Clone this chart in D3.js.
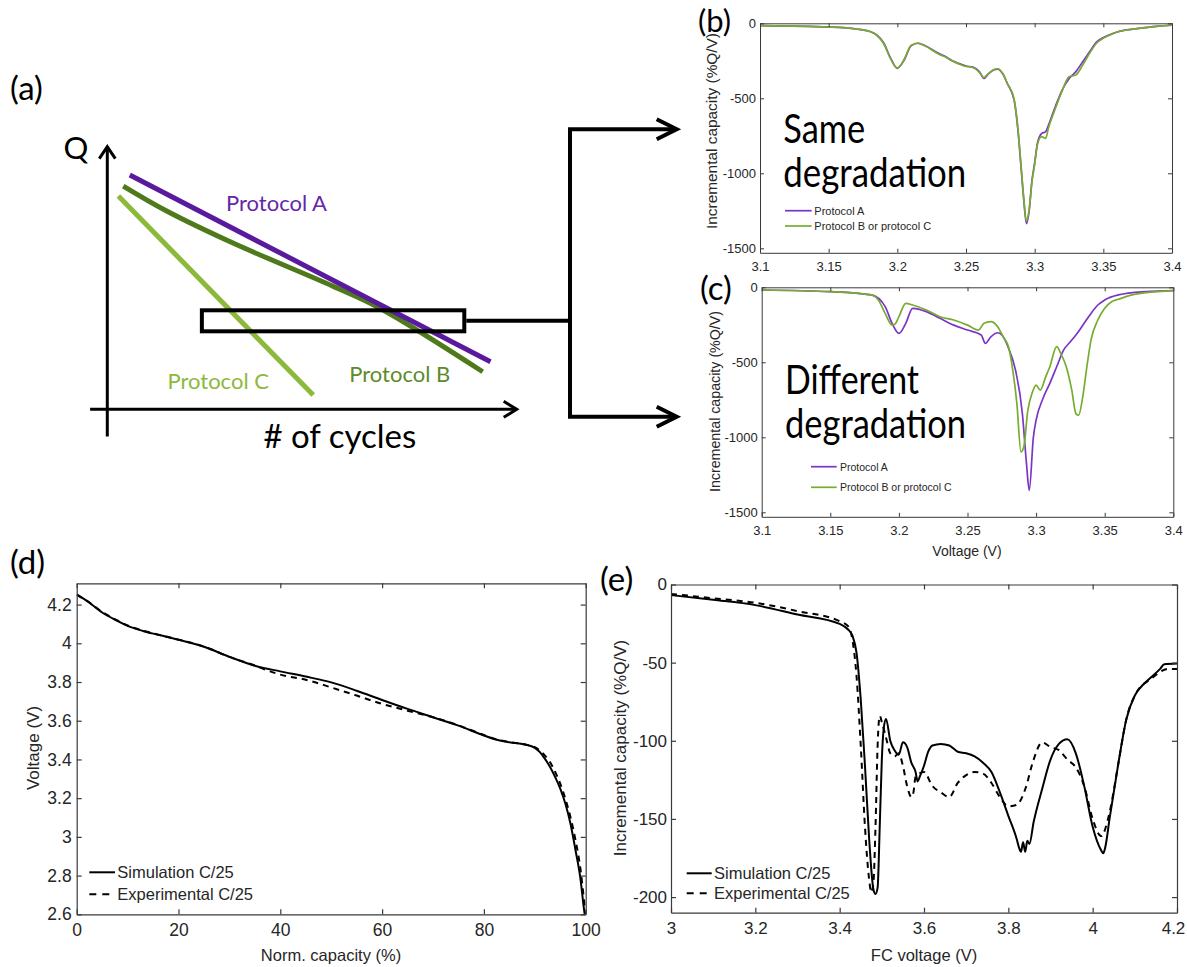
<!DOCTYPE html>
<html>
<head>
<meta charset="utf-8">
<script src="https://cdn.jsdelivr.net/npm/d3@7"></script>
<style>
  body { margin: 0; background: #fff; }
  svg { display: block; background: #fff; }
</style>
</head>
<body>
<svg id="fig" width="1187" height="967"></svg>
<script>
// ---- (a) schematic: capacity fade vs cycles (arbitrary units 0-100)
const protoACycles = [5.5, 93.6];
const protoAQ = [89.2, 18.1];
const protoBCycles = [3.9, 14.5, 30.7, 55.1, 66.6, 91.7];
const protoBQ = [85.0, 75.5, 63.3, 46.9, 38.5, 14.3];
const protoCCycles = [2.7, 50.3];
const protoCQ = [81.2, 5.4];
const windowCycles = [23.1, 87.2];
const windowQ = [29.7, 37.7];

// ---- (b) same degradation
const bVolt = [3.1, 3.15, 3.17, 3.18, 3.185, 3.19, 3.195, 3.2, 3.205, 3.21, 3.215, 3.22, 3.23, 3.235, 3.24,
  3.245, 3.25, 3.255, 3.26, 3.263, 3.266, 3.27, 3.273, 3.277, 3.28, 3.285, 3.288, 3.29, 3.292, 3.294,
  3.296, 3.298, 3.3, 3.302, 3.305, 3.308, 3.31, 3.315, 3.32, 3.325, 3.33, 3.335, 3.34, 3.345, 3.35,
  3.355, 3.36, 3.37, 3.38, 3.39, 3.4];
const bProtoA = [-15, -25, -38, -55, -78, -130, -230, -300, -245, -150, -133, -148, -200, -222, -250,
  -268, -285, -292, -325, -368, -340, -312, -305, -340, -400, -510, -730, -950, -1170, -1335,
  -1250, -1050, -930, -800, -735, -722, -680, -556, -445, -370, -322, -256, -190, -125, -95,
  -75, -58, -40, -29, -19, -13];
const bProtoBC = [-15, -25, -38, -55, -80, -135, -235, -298, -240, -148, -132, -150, -205, -225, -252,
  -272, -288, -295, -330, -362, -338, -310, -303, -338, -398, -505, -720, -940, -1160, -1320,
  -1240, -1060, -940, -810, -756, -767, -700, -570, -450, -356, -344, -278, -200, -133, -100,
  -78, -58, -40, -29, -19, -13];

// ---- (c) different degradation
const cVoltA = [3.1, 3.15, 3.18, 3.19, 3.195, 3.2, 3.205, 3.21, 3.22, 3.23, 3.24, 3.25, 3.26, 3.263, 3.267,
  3.272, 3.276, 3.28, 3.285, 3.29, 3.293, 3.295, 3.298, 3.3, 3.305, 3.31, 3.315, 3.32, 3.325, 3.33,
  3.335, 3.34, 3.345, 3.35, 3.36, 3.38, 3.4];
const cProtoA = [-18, -29, -51, -129, -240, -307, -240, -140, -162, -207, -252, -285, -318, -374, -330,
  -303, -330, -408, -552, -842, -1176, -1354, -1000, -886, -741, -641, -530, -419, -363, -307,
  -240, -174, -118, -85, -51, -29, -22];
const cVoltBC = [3.1, 3.15, 3.18, 3.185, 3.19, 3.195, 3.197, 3.2, 3.205, 3.21, 3.22, 3.23, 3.24, 3.25, 3.258,
  3.262, 3.267, 3.272, 3.276, 3.28, 3.283, 3.286, 3.289, 3.291, 3.294, 3.297, 3.3, 3.303, 3.307, 3.31,
  3.315, 3.318, 3.322, 3.326, 3.329, 3.331, 3.334, 3.337, 3.34, 3.345, 3.35, 3.355, 3.36, 3.37, 3.38, 3.4];
const cProtoBC = [-18, -29, -51, -85, -174, -252, -247, -196, -107, -118, -151, -196, -218, -252, -285,
  -240, -229, -263, -330, -400, -552, -775, -1098, -1065, -819, -708, -652, -686, -597, -530,
  -396, -441, -530, -686, -842, -853, -730, -530, -352, -218, -140, -96, -80, -51, -36, -22];

// ---- (d) voltage curve
const dCapSim = [0, 2, 5, 8, 10, 13, 16, 20, 25, 30, 35, 40, 45, 50, 55, 60, 65, 70, 75, 80,
  82, 85, 88, 90, 91, 92, 93, 94, 95, 96, 97, 98, 99, 99.6, 99.8];
const dVoltSim = [4.253, 4.219, 4.159, 4.116, 4.09, 4.064, 4.044, 4.018, 3.982, 3.93, 3.884, 3.855, 3.828, 3.798, 3.755,
  3.707, 3.661, 3.618, 3.575, 3.524, 3.506, 3.489, 3.477, 3.46, 3.438, 3.403, 3.361, 3.309, 3.249, 3.172,
  3.069, 2.931, 2.777, 2.64, 2.6];
const dCapExp = [0, 2, 5, 8, 10, 13, 16, 20, 25, 30, 35, 38, 40, 45, 50, 55, 60, 65, 68, 70,
  75, 80, 82, 85, 88, 90, 91, 92, 93, 94, 95, 96, 97, 98, 99, 99.6, 100];
const dVoltExp = [4.25, 4.22, 4.162, 4.118, 4.092, 4.066, 4.045, 4.019, 3.983, 3.93, 3.885, 3.855, 3.838, 3.812, 3.772,
  3.73, 3.687, 3.652, 3.632, 3.618, 3.576, 3.526, 3.507, 3.49, 3.478, 3.463, 3.446, 3.42, 3.386, 3.335,
  3.275, 3.197, 3.103, 2.983, 2.828, 2.691, 2.6];

// ---- (e) incremental capacity
const eVoltSim = [3, 3.1, 3.2, 3.3, 3.4, 3.42, 3.43, 3.44, 3.45, 3.46, 3.47, 3.48, 3.485, 3.49, 3.495,
  3.5, 3.505, 3.51, 3.52, 3.53, 3.54, 3.55, 3.56, 3.57, 3.58, 3.585, 3.59, 3.6, 3.61, 3.62,
  3.64, 3.66, 3.68, 3.7, 3.72, 3.74, 3.76, 3.78, 3.8, 3.82, 3.825, 3.83, 3.835, 3.84, 3.845,
  3.85, 3.86, 3.88, 3.9, 3.92, 3.94, 3.96, 3.98, 4.0, 4.02, 4.025, 4.03, 4.04, 4.06, 4.08,
  4.1, 4.12, 4.14, 4.16, 4.17, 4.2];
const eIcSim = [-6.8, -9.8, -13.2, -19.2, -25.2, -28.8, -32.6, -43.7, -73.6, -116, -163, -195, -198, -194, -155,
  -112, -91, -86, -100, -106, -109, -101, -104, -114, -120, -126, -123, -116, -107, -103,
  -102, -103, -107, -108, -110, -114, -120, -133, -148, -163, -168, -171, -165, -171, -164,
  -166, -152, -131, -112, -102, -99, -108, -129, -155, -170, -172, -168, -150, -116, -86,
  -71, -64, -59, -54, -51, -50.5];
const eVoltExp = [3, 3.1, 3.2, 3.3, 3.4, 3.42, 3.43, 3.44, 3.45, 3.46, 3.47, 3.475, 3.48, 3.485, 3.49,
  3.495, 3.5, 3.51, 3.52, 3.53, 3.54, 3.55, 3.56, 3.57, 3.575, 3.58, 3.6, 3.62, 3.64, 3.66,
  3.68, 3.7, 3.72, 3.74, 3.76, 3.78, 3.8, 3.82, 3.84, 3.86, 3.88, 3.9, 3.92, 3.94, 3.96,
  3.98, 4.0, 4.02, 4.04, 4.06, 4.08, 4.1, 4.14, 4.18, 4.2];
const eIcExp = [-6, -8.8, -11.7, -17, -23.5, -26.7, -35, -58.6, -103, -155, -189, -197, -191, -155, -103,
  -84, -88, -98, -108, -110, -108, -116, -129, -136, -133, -123, -120, -129, -133, -136,
  -127, -122, -120, -121, -127, -136, -142, -141, -131, -112, -101, -104, -106, -112, -117,
  -129, -150, -161, -146, -116, -86, -71, -60, -54, -54];

// ---- ticks
const bcTicksX = [3.1, 3.15, 3.2, 3.25, 3.3, 3.35, 3.4];
const bcTicksY = [-1500, -1000, -500, 0];
const dTicksX = [0, 20, 40, 60, 80, 100];
const dTicksY = [2.6, 2.8, 3, 3.2, 3.4, 3.6, 3.8, 4, 4.2];
const eTicksX = [3, 3.2, 3.4, 3.6, 3.8, 4, 4.2];
const eTicksY = [-200, -150, -100, -50, 0];

const PURPLE = '#7a35c6', GREEN = '#77ac30';
const A_PURPLE = '#5a1a9e', A_DARK = '#4f7a1c', A_LIGHT = '#8cb93c';
const TICK_FONT = '"Liberation Sans", Arial, Helvetica, sans-serif';
const CAL_FONT = 'Lato, "Open Sans", sans-serif';
const AXIS_COL = '#3a3a3a', TEXT_COL = '#262626';

const svg = d3.select('#fig');
const zip = (xs, ys) => xs.map((x, i) => [x, ys[i]]);
const fmt = d => String(+d.toFixed(2));

function boxAxes(g, x, y, o) {
    const [xl, xr] = x.range();
    const [yb, yt] = y.range();
    const tl = o.tickLen;
    const bottom = g.append('g').attr('transform', `translate(0,${yb})`)
        .call(d3.axisBottom(x).tickValues(o.xTicks).tickSizeInner(-tl).tickSizeOuter(0).tickPadding(o.xPad).tickFormat(fmt));
    g.append('g').attr('transform', `translate(0,${yt})`)
        .call(d3.axisTop(x).tickValues(o.xTicks).tickSizeInner(-tl).tickSizeOuter(0).tickFormat(() => ''));
    g.append('g').attr('transform', `translate(${xl},0)`)
        .call(d3.axisLeft(y).tickValues(o.yTicks).tickSizeInner(-tl).tickSizeOuter(0).tickPadding(o.yPad).tickFormat(fmt));
    g.append('g').attr('transform', `translate(${xr},0)`)
        .call(d3.axisRight(y).tickValues(o.yTicks).tickSizeInner(-tl).tickSizeOuter(0).tickFormat(() => ''));
    g.selectAll('.domain, .tick line').attr('stroke', AXIS_COL).attr('stroke-width', o.lw);
    g.selectAll('.tick text')
        .attr('fill', TEXT_COL)
        .style('font-family', TICK_FONT)
        .style('font-size', o.fontSize + 'px');
    // keep the last x label inside the page edge
    if (o.lastShift) {
        bottom.selectAll('.tick text').filter((d, i, n) => i === n.length - 1).attr('dx', o.lastShift);
    }
}

function clipFor(id, x, y) {
    svg.append('clipPath').attr('id', id).append('rect')
        .attr('x', x.range()[0]).attr('y', y.range()[1])
        .attr('width', x.range()[1] - x.range()[0])
        .attr('height', y.range()[0] - y.range()[1]);
    return `url(#${id})`;
}

function label(txt, xPos, yPos, o) {
    const t = svg.append('text').attr('x', xPos).attr('y', yPos).text(txt)
        .attr('fill', o.color || TEXT_COL)
        .style('font-family', o.font || TICK_FONT)
        .style('font-size', o.size + 'px')
        .attr('text-anchor', o.anchor || 'start');
    if (o.rotate) t.attr('transform', `rotate(-90,${xPos},${yPos})`).attr('dominant-baseline', 'central');
    if (o.len) t.attr('textLength', o.len).attr('lengthAdjust', 'spacingAndGlyphs');
    if (o.central) t.attr('dominant-baseline', 'central');
    return t;
}

function legend(items, x0, x1, tx, ys, size) {
    items.forEach((it, i) => {
        svg.append('line').attr('x1', x0).attr('x2', x1).attr('y1', ys[i]).attr('y2', ys[i])
            .attr('stroke', it.color).attr('stroke-width', it.width)
            .attr('stroke-dasharray', it.dash || null);
        label(it.name, tx, ys[i], { size, central: true });
    });
}

// ================= (a) =================
const ax = d3.scaleLinear().domain([0, 100]).range([107.3, 516.7]);
const ay = d3.scaleLinear().domain([0, 100]).range([409.3, 146.7]);
const ga = svg.append('g');

// axes with open arrowheads
ga.append('line').attr('x1', ax(0)).attr('x2', ax(0)).attr('y1', ay(-10.4)).attr('y2', ay(100))
    .attr('stroke', '#000').attr('stroke-width', 3);
ga.append('polyline').attr('points', `${ax(0) - 8},${ay(100) + 12} ${ax(0)},${ay(100)} ${ax(0) + 8},${ay(100) + 12}`)
    .attr('fill', 'none').attr('stroke', '#000').attr('stroke-width', 3);
ga.append('line').attr('x1', ax(-4.2)).attr('x2', ax(100)).attr('y1', ay(0)).attr('y2', ay(0))
    .attr('stroke', '#000').attr('stroke-width', 3);
ga.append('polyline').attr('points', `${ax(100) - 13},${ay(0) - 8} ${ax(100)},${ay(0)} ${ax(100) - 13},${ay(0) + 8}`)
    .attr('fill', 'none').attr('stroke', '#000').attr('stroke-width', 3);

const schemLine = d3.line().x(d => ax(d[0])).y(d => ay(d[1])).curve(d3.curveCatmullRom);
[[protoCCycles, protoCQ, A_LIGHT], [protoBCycles, protoBQ, A_DARK], [protoACycles, protoAQ, A_PURPLE]]
    .forEach(([cx, cq, col]) => {
        ga.append('path').attr('d', schemLine(zip(cx, cq)))
            .attr('fill', 'none').attr('stroke', col).attr('stroke-width', 5);
    });

// zoom window and connector arrows
ga.append('rect')
    .attr('x', ax(windowCycles[0])).attr('y', ay(windowQ[1]))
    .attr('width', ax(windowCycles[1]) - ax(windowCycles[0]))
    .attr('height', ay(windowQ[0]) - ay(windowQ[1]))
    .attr('fill', 'none').attr('stroke', '#000').attr('stroke-width', 4);
const trunkX = 570, tipX = 676.7, topArrowY = 129.3, botArrowY = 416.7;
const midY = ay((windowQ[0] + windowQ[1]) / 2);
ga.append('line').attr('x1', ax(windowCycles[1]) + 2).attr('x2', trunkX).attr('y1', midY).attr('y2', midY)
    .attr('stroke', '#000').attr('stroke-width', 4);
ga.append('polyline').attr('points', `${tipX - 2},${topArrowY} ${trunkX},${topArrowY} ${trunkX},${botArrowY} ${tipX - 2},${botArrowY}`)
    .attr('fill', 'none').attr('stroke', '#000').attr('stroke-width', 4).attr('stroke-linejoin', 'miter');
[topArrowY, botArrowY].forEach(yy => {
    ga.append('polyline').attr('points', `${tipX - 20},${yy - 10} ${tipX},${yy} ${tipX - 20},${yy + 10}`)
        .attr('fill', 'none').attr('stroke', '#000').attr('stroke-width', 4);
});

label('Protocol A', ax(29.0), ay(75.6), { size: 22, font: CAL_FONT, color: '#6527a8' });
label('Protocol B', ax(59.1), ay(10.5), { size: 22, font: CAL_FONT, color: '#5e8b2a' });
label('Protocol C', ax(14.7), ay(7.6), { size: 22, font: CAL_FONT, color: A_LIGHT });
label('Q', ax(0) - 19, ay(95.3), { size: 31, font: CAL_FONT, color: '#000', anchor: 'end' });
label('# of cycles', ax(56.8), ay(0) + 39, { size: 33, font: CAL_FONT, color: '#000', anchor: 'middle' });

// ================= (b) and (c) =================
function icPanel(box, series, o) {
    const x = d3.scaleLinear().domain([3.1, 3.4]).range([box.x0, box.x1]);
    const y = d3.scaleLinear().domain([-1530, 0]).range([box.y1, box.y0]);
    const g = svg.append('g');
    const clip = clipFor(o.id, x, y);
    const line = d3.line().x(d => x(d[0])).y(d => y(d[1])).curve(d3.curveMonotoneX);
    series.forEach(s => {
        g.append('path').attr('clip-path', clip).attr('d', line(zip(s.v, s.ic)))
            .attr('fill', 'none').attr('stroke', s.color).attr('stroke-width', 1.7)
            .attr('stroke-linejoin', 'round');
    });
    boxAxes(g, x, y, { xTicks: bcTicksX, yTicks: bcTicksY, tickLen: 4, xPad: 9, yPad: 4, lw: 1, fontSize: 13 });
    return { x, y };
}

icPanel({ x0: 760, x1: 1172, y0: 23.3, y1: 252.8 }, [
    { v: bVolt, ic: bProtoA, color: PURPLE },
    { v: bVolt, ic: bProtoBC, color: GREEN }
], { id: 'clipB' });
icPanel({ x0: 761.7, x1: 1173.3, y0: 287.3, y1: 516.8 }, [
    { v: cVoltA, ic: cProtoA, color: PURPLE },
    { v: cVoltBC, ic: cProtoBC, color: GREEN }
], { id: 'clipC' });

// rotated y labels start at the bottom and run upward
label('Incremental capacity (%Q/V)', 711.7, 229, { size: 14, rotate: true, len: 196 });
label('Incremental capacity (%Q/V)', 715, 492, { size: 14, rotate: true, len: 181 });
label('Voltage (V)', 967, 551, { size: 14, anchor: 'middle', central: true });

legend([{ name: 'Protocol A', color: PURPLE, width: 1.7 }, { name: 'Protocol B or protocol C', color: GREEN, width: 1.7 }],
    785, 811.7, 814.3, [210.7, 226], 11);
legend([{ name: 'Protocol A', color: PURPLE, width: 1.7 }, { name: 'Protocol B or protocol C', color: GREEN, width: 1.7 }],
    811, 836.7, 840, [466.7, 487.3], 10.5);

label('Same', 783.3, 143.3, { size: 40, font: CAL_FONT, color: '#000', len: 82 });
label('degradation', 783.3, 187, { size: 40, font: CAL_FONT, color: '#000', len: 183 });
label('Different', 785, 394, { size: 40, font: CAL_FONT, color: '#000', len: 134 });
label('degradation', 785, 438.3, { size: 40, font: CAL_FONT, color: '#000', len: 181 });

// ================= (d) =================
const dx = d3.scaleLinear().domain([0, 100]).range([76.7, 585.7]);
const dy = d3.scaleLinear().domain([2.6, 4.31]).range([914.3, 583.3]);
const gd = svg.append('g');
const clipD = clipFor('clipD', dx, dy);
const dLine = d3.line().x(d => dx(d[0])).y(d => dy(d[1])).curve(d3.curveMonotoneX);
gd.append('path').attr('clip-path', clipD).attr('d', dLine(zip(dCapExp, dVoltExp)))
    .attr('fill', 'none').attr('stroke', '#000').attr('stroke-width', 2).attr('stroke-dasharray', '6,5');
gd.append('path').attr('clip-path', clipD).attr('d', dLine(zip(dCapSim, dVoltSim)))
    .attr('fill', 'none').attr('stroke', '#000').attr('stroke-width', 2);
boxAxes(gd, dx, dy, { xTicks: dTicksX, yTicks: dTicksY, tickLen: 5, xPad: 9.5, yPad: 5, lw: 1.2, fontSize: 17.5 });
label('Norm. capacity (%)', 331, 955, { size: 16.5, anchor: 'middle', central: true });
label('Voltage (V)', 33.3, 748, { size: 17, rotate: true, anchor: 'middle' });
legend([{ name: 'Simulation C/25', color: '#000', width: 2 }, { name: 'Experimental C/25', color: '#000', width: 2, dash: '7,6' }],
    89.3, 115, 117.3, [872.3, 894.3], 16.5);

// ================= (e) =================
const ex = d3.scaleLinear().domain([3, 4.2]).range([671, 1177]);
const ey = d3.scaleLinear().domain([-210, 0]).range([912.7, 584.5]);
const ge = svg.append('g');
const clipE = clipFor('clipE', ex, ey);
const eLine = d3.line().x(d => ex(d[0])).y(d => ey(d[1])).curve(d3.curveMonotoneX);
ge.append('path').attr('clip-path', clipE).attr('d', eLine(zip(eVoltExp, eIcExp)))
    .attr('fill', 'none').attr('stroke', '#000').attr('stroke-width', 2).attr('stroke-dasharray', '6,5');
ge.append('path').attr('clip-path', clipE).attr('d', eLine(zip(eVoltSim, eIcSim)))
    .attr('fill', 'none').attr('stroke', '#000').attr('stroke-width', 2);
boxAxes(ge, ex, ey, { xTicks: eTicksX, yTicks: eTicksY, tickLen: 5, xPad: 9, yPad: 4, lw: 1.2, fontSize: 17, lastShift: -4 });
label('FC voltage (V)', 924, 955, { size: 16.5, anchor: 'middle', central: true });
label('Incremental capacity (%Q/V)', 620, 748, { size: 17, rotate: true, anchor: 'middle' });
legend([{ name: 'Simulation C/25', color: '#000', width: 2 }, { name: 'Experimental C/25', color: '#000', width: 2, dash: '7,6' }],
    686.7, 711.7, 714, [873.3, 893.3], 16.5);

// ================= panel letters =================
label('(a)', 10, 100, { size: 33, font: CAL_FONT, color: '#000' });
label('(b)', 698, 32, { size: 31, font: CAL_FONT, color: '#000' });
label('(c)', 700, 300, { size: 33, font: CAL_FONT, color: '#000' });
label('(d)', 10, 574, { size: 33, font: CAL_FONT, color: '#000' });
label('(e)', 600, 591, { size: 33, font: CAL_FONT, color: '#000' });
</script>
</body>
</html>
